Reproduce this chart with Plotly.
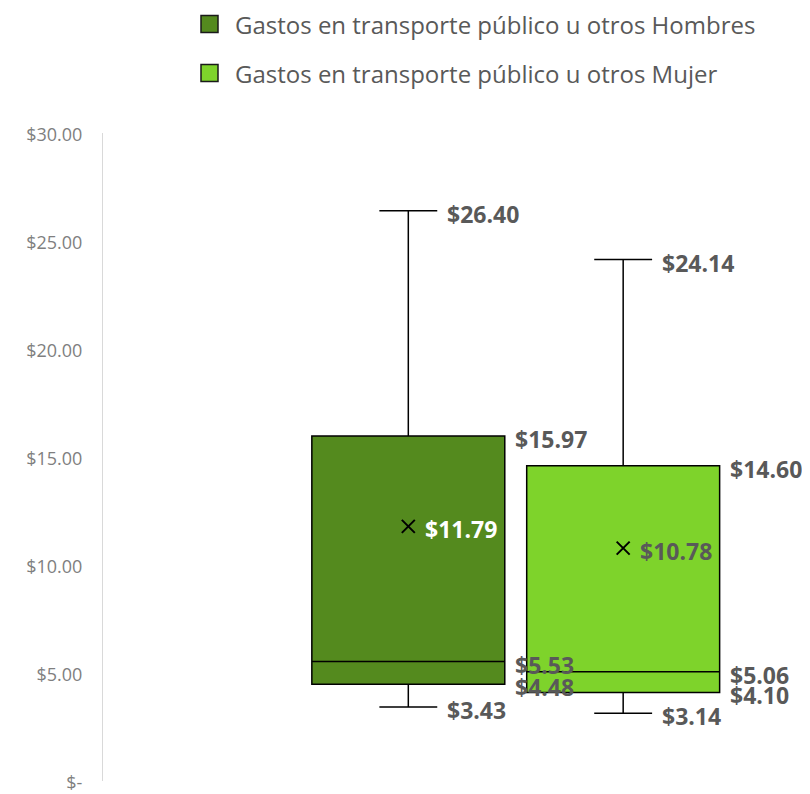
import plotly.graph_objects as go

series = ["Gastos en transporte público u otros Hombres", "Gastos en transporte público u otros Mujer"]
colors = ["#548a1e", "#7ed32b"]
mins = [3.43, 3.14]
q1s = [4.48, 4.10]
medians = [5.53, 5.06]
q3s = [15.97, 14.60]
maxs = [26.40, 24.14]
means = [11.79, 10.78]
mean_label_colors = ["#ffffff", "#595959"]

tick_vals = [0, 5, 10, 15, 20, 25, 30]
tick_text = ["$-", "$5.00", "$10.00", "$15.00", "$20.00", "$25.00", "$30.00"]

FONT = "'Open Sans', Lato, sans-serif"
OFF = 8  # page body margin
W, H = 810 - OFF, 794 - OFF
ML, MT = 103 - OFF, 133 - OFF
MB = H - (781 - OFF)
MR = 10
PW = W - ML - MR
PH = H - MT - MB

def px_x(p):
    return (p - OFF - ML) / PW

def px_y(p):
    return (H - MB - (p - OFF)) / PH

fig = go.Figure()
for i, name in enumerate(series):
    fig.add_trace(go.Box(
        x=[i], q1=[q1s[i]], median=[medians[i]], q3=[q3s[i]],
        lowerfence=[mins[i]], upperfence=[maxs[i]],
        name=name, fillcolor=colors[i], line=dict(color="#000000", width=1.5),
        width=0.898, whiskerwidth=0.3, boxpoints=False, showlegend=False,
        hoverinfo="skip",
    ))
    fig.add_trace(go.Scatter(
        x=[i], y=[means[i]], mode="markers",
        marker=dict(symbol="x-thin", size=13, line=dict(color="#000000", width=2)),
        showlegend=False, hoverinfo="skip",
    ))

lab_font = dict(family=FONT, size=23, color="#595959", weight="bold")
annotations = []
for i in range(len(series)):
    for val, shift in [(maxs[i], 37), (mins[i], 37), (q3s[i], 105), (medians[i], 105), (q1s[i], 105)]:
        annotations.append(dict(x=i, y=val, xref="x", yref="y", text=f"${val:.2f}",
                                showarrow=False, xanchor="left", yanchor="middle",
                                xshift=shift, yshift=-3, font=lab_font))
    annotations.append(dict(x=i, y=means[i], xref="x", yref="y", text=f"${means[i]:.2f}",
                            showarrow=False, xanchor="left", yanchor="middle",
                            xshift=15, yshift=-3,
                            font=dict(family=FONT, size=23, color=mean_label_colors[i], weight="bold")))

shapes = []
legend_rows = [24, 73]
for i, name in enumerate(series):
    yc = legend_rows[i]
    shapes.append(dict(type="rect", xref="paper", yref="paper",
                       x0=px_x(201), x1=px_x(218), y0=px_y(yc + 8.5), y1=px_y(yc - 8.5),
                       fillcolor=colors[i], line=dict(color="#1a1a1a", width=1.5)))
    annotations.append(dict(x=px_x(233), y=px_y(yc), xref="paper", yref="paper",
                            text=name, showarrow=False, xanchor="left", yanchor="middle",
                            font=dict(family=FONT, size=24, color="#595959")))

fig.update_layout(
    width=W, height=H,
    margin=dict(l=ML, r=MR, t=MT, b=MB, autoexpand=False),
    paper_bgcolor="#ffffff", plot_bgcolor="#ffffff",
    boxmode="overlay",
    showlegend=False,
    shapes=shapes,
    annotations=annotations,
    xaxis=dict(range=[-1.421, 1.823], showticklabels=False, showgrid=False,
               zeroline=False, showline=False, ticks="", automargin=False),
    yaxis=dict(range=[0, 30], tickvals=tick_vals, ticktext=tick_text,
               showgrid=False, zeroline=False, showline=True, linecolor="#d9d9d9",
               linewidth=1, ticks="", ticklabelstandoff=16, ticklabelshift=2,
               ticklabeloverflow="allow", automargin=False,
               tickfont=dict(family=FONT, size=18, color="#7f7f7f")),
)

fig.write_html("out.html")
